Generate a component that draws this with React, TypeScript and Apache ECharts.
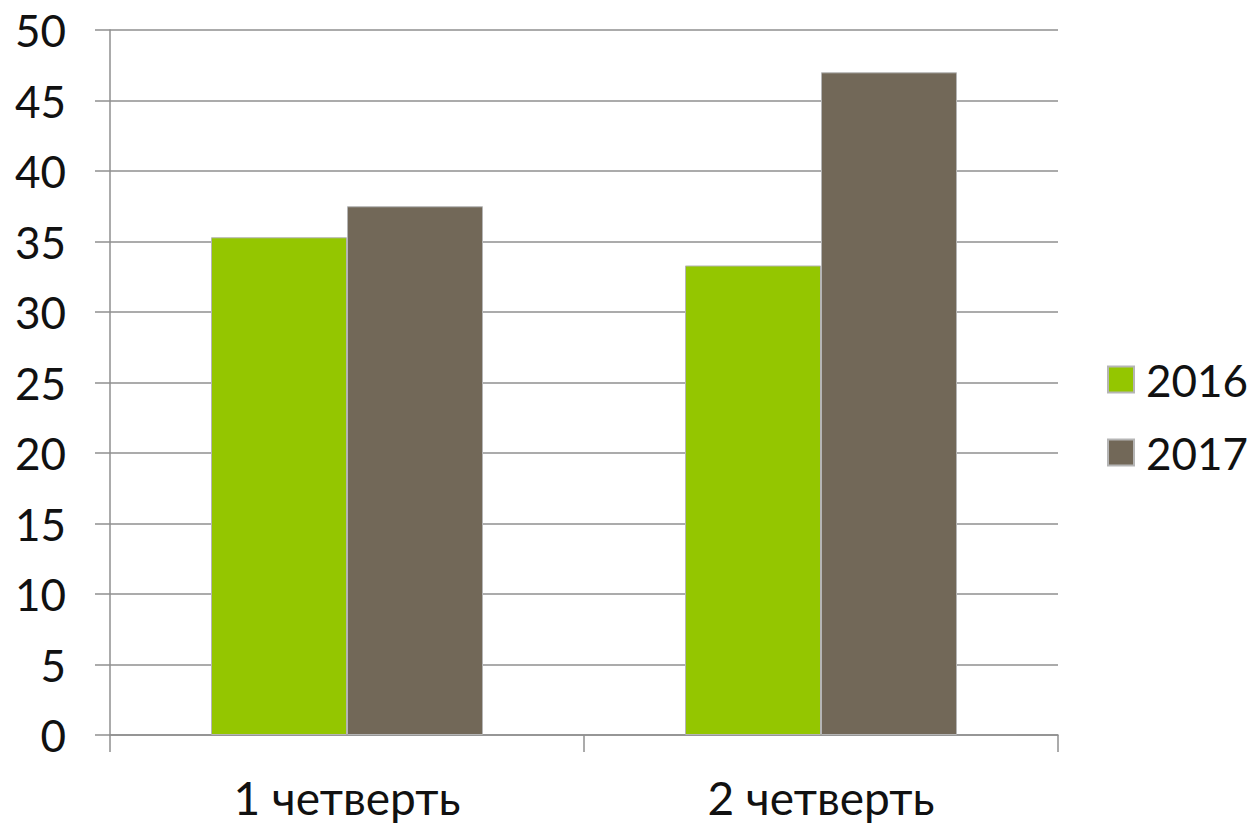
import React, { useEffect, useRef } from "react";
import * as echarts from "echarts";

const categories = ["1 четверть", "2 четверть"];
const seriesNames = ["2016", "2017"];
const values2016 = [35.3, 33.3];
const values2017 = [37.5, 47];
const yTicks = { min: 0, max: 50, interval: 5 };

const FONT = "Lato, 'Noto Sans', sans-serif";

export default function App() {
  const ref = useRef<HTMLDivElement>(null);
  useEffect(() => {
    if (!ref.current) return;
    const chart = echarts.init(ref.current, null, { renderer: "svg" });
    const gridColor = "#8f8f8f";
    chart.setOption({
      animation: false,
      backgroundColor: "#ffffff",
      textStyle: { fontFamily: FONT },
      grid: { left: 110, right: 200, top: 30, bottom: 93, containLabel: false },
      legend: {
        orient: "vertical",
        left: 1107,
        top: 356,
        padding: 0,
        itemWidth: 26,
        itemHeight: 26,
        itemGap: 26,
        icon: "rect",
        textStyle: { fontSize: 44, color: "#111", fontFamily: FONT, lineHeight: 47, padding: [0, 0, 0, 7] },
        data: seriesNames,
      },
      xAxis: {
        type: "category",
        data: categories,
        axisLine: { show: true, lineStyle: { color: gridColor, width: 1.5 } },
        axisTick: { show: true, length: 17, lineStyle: { color: gridColor, width: 1.5 } },
        axisLabel: { fontSize: 46, color: "#111", margin: 39, fontFamily: FONT },
      },
      yAxis: {
        type: "value",
        min: yTicks.min,
        max: yTicks.max,
        interval: yTicks.interval,
        axisLine: { show: true, lineStyle: { color: gridColor, width: 1.5 } },
        axisTick: { show: true, length: 15, lineStyle: { color: gridColor, width: 1.5 } },
        splitLine: { show: true, lineStyle: { color: gridColor, width: 1.5 } },
        axisLabel: { fontSize: 44, color: "#111", margin: 44, fontFamily: FONT },
      },
      series: [
        {
          name: seriesNames[0],
          type: "bar",
          data: values2016,
          barWidth: 136,
          barGap: "0%",
          itemStyle: { color: "#94c600", borderColor: "#b5b5b5", borderWidth: 1 },
        },
        {
          name: seriesNames[1],
          type: "bar",
          data: values2017,
          barWidth: 136,
          barGap: "0%",
          itemStyle: { color: "#726858", borderColor: "#b5b5b5", borderWidth: 1 },
        },
      ],
    });
    return () => chart.dispose();
  }, []);
  return (
    <div
      ref={ref}
      style={{ position: "fixed", left: 0, top: 0, width: 1258, height: 828 }}
    />
  );
}
